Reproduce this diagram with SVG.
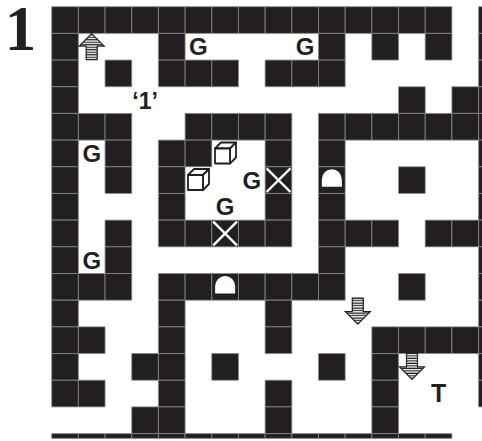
<svg xmlns="http://www.w3.org/2000/svg" width="482" height="441" viewBox="0 0 482 441">
  <style>
    .wall { fill: #231f20; stroke: #8a8a8a; stroke-width: 0.8; vector-effect: non-scaling-stroke; }
    .lbl { font-family: "Liberation Sans", Arial, sans-serif; font-weight: bold; fill: #231f20; text-anchor: middle; }
    .num { font-family: "Liberation Serif", "Times New Roman", serif; font-weight: bold; fill: #231f20; text-anchor: middle; }
    .cross { stroke: #fff; stroke-width: 2.4; }
    .door { fill: #fff; }
    .crate { fill: #fff; stroke: #231f20; stroke-width: 1.8; stroke-linejoin: round; }
    .arrow { fill: url(#hatch); stroke: #231f20; stroke-width: 1.2; stroke-linejoin: miter; }
  </style>
  <defs>
    <pattern id="hatch" width="4" height="2.5" patternUnits="userSpaceOnUse">
      <rect width="4" height="2.5" fill="#fff"/>
      <rect width="4" height="1.2" fill="#231f20"/>
    </pattern>
    <g id="crate">
      <path class="crate" d="M0,6 L6,0 L21,0 L15,6 Z"/>
      <path class="crate" d="M15,6 L21,0 L21,15 L15,21 Z"/>
      <rect class="crate" x="0" y="6" width="15" height="15"/>
    </g>
    <path id="arrowUp" class="arrow" d="M0,-13 L12.5,-0.5 L5.5,-0.5 L5.5,13 L-5.5,13 L-5.5,-0.5 L-12.5,-0.5 Z"/>
  </defs>

  <rect width="482" height="441" fill="#fff"/>

  <!-- level number -->
  <text class="num" x="20.5" y="50" font-size="63">1</text>

  <!-- maze walls, one unit per cell -->
  <g id="walls" transform="translate(51.7 6.7) scale(26.68)">
    <!-- row 0 -->
    <rect class="wall" x="0" y="0" width="1" height="1"/><rect class="wall" x="1" y="0" width="1" height="1"/>
    <rect class="wall" x="2" y="0" width="1" height="1"/><rect class="wall" x="3" y="0" width="1" height="1"/>
    <rect class="wall" x="4" y="0" width="1" height="1"/><rect class="wall" x="5" y="0" width="1" height="1"/>
    <rect class="wall" x="6" y="0" width="1" height="1"/><rect class="wall" x="7" y="0" width="1" height="1"/>
    <rect class="wall" x="8" y="0" width="1" height="1"/><rect class="wall" x="9" y="0" width="1" height="1"/>
    <rect class="wall" x="10" y="0" width="1" height="1"/><rect class="wall" x="11" y="0" width="1" height="1"/>
    <rect class="wall" x="12" y="0" width="1" height="1"/><rect class="wall" x="13" y="0" width="1" height="1"/>
    <rect class="wall" x="14" y="0" width="1" height="1"/>
    <!-- row 1 -->
    <rect class="wall" x="0" y="1" width="1" height="1"/><rect class="wall" x="4" y="1" width="1" height="1"/>
    <rect class="wall" x="10" y="1" width="1" height="1"/><rect class="wall" x="12" y="1" width="1" height="1"/>
    <rect class="wall" x="14" y="1" width="1" height="1"/>
    <!-- row 2 -->
    <rect class="wall" x="0" y="2" width="1" height="1"/><rect class="wall" x="2" y="2" width="1" height="1"/>
    <rect class="wall" x="4" y="2" width="1" height="1"/><rect class="wall" x="5" y="2" width="1" height="1"/>
    <rect class="wall" x="6" y="2" width="1" height="1"/><rect class="wall" x="8" y="2" width="1" height="1"/>
    <rect class="wall" x="9" y="2" width="1" height="1"/><rect class="wall" x="10" y="2" width="1" height="1"/>
    <!-- row 3 -->
    <rect class="wall" x="0" y="3" width="1" height="1"/><rect class="wall" x="13" y="3" width="1" height="1"/>
    <rect class="wall" x="15" y="3" width="1" height="1"/>
    <!-- row 4 -->
    <rect class="wall" x="0" y="4" width="1" height="1"/><rect class="wall" x="1" y="4" width="1" height="1"/>
    <rect class="wall" x="2" y="4" width="1" height="1"/><rect class="wall" x="5" y="4" width="1" height="1"/>
    <rect class="wall" x="6" y="4" width="1" height="1"/><rect class="wall" x="7" y="4" width="1" height="1"/>
    <rect class="wall" x="8" y="4" width="1" height="1"/><rect class="wall" x="10" y="4" width="1" height="1"/>
    <rect class="wall" x="11" y="4" width="1" height="1"/><rect class="wall" x="12" y="4" width="1" height="1"/>
    <rect class="wall" x="13" y="4" width="1" height="1"/><rect class="wall" x="14" y="4" width="1" height="1"/>
    <rect class="wall" x="15" y="4" width="1" height="1"/>
    <!-- row 5 -->
    <rect class="wall" x="0" y="5" width="1" height="1"/><rect class="wall" x="2" y="5" width="1" height="1"/>
    <rect class="wall" x="4" y="5" width="1" height="1"/><rect class="wall" x="5" y="5" width="1" height="1"/>
    <rect class="wall" x="8" y="5" width="1" height="1"/><rect class="wall" x="10" y="5" width="1" height="1"/>
    <!-- row 6 -->
    <rect class="wall" x="0" y="6" width="1" height="1"/><rect class="wall" x="2" y="6" width="1" height="1"/>
    <rect class="wall" x="4" y="6" width="1" height="1"/><rect class="wall" x="8" y="6" width="1" height="1"/>
    <rect class="wall" x="10" y="6" width="1" height="1"/><rect class="wall" x="13" y="6" width="1" height="1"/>
    <!-- row 7 -->
    <rect class="wall" x="0" y="7" width="1" height="1"/><rect class="wall" x="4" y="7" width="1" height="1"/>
    <rect class="wall" x="8" y="7" width="1" height="1"/><rect class="wall" x="10" y="7" width="1" height="1"/>
    <!-- row 8 -->
    <rect class="wall" x="0" y="8" width="1" height="1"/><rect class="wall" x="2" y="8" width="1" height="1"/>
    <rect class="wall" x="4" y="8" width="1" height="1"/><rect class="wall" x="5" y="8" width="1" height="1"/>
    <rect class="wall" x="6" y="8" width="1" height="1"/><rect class="wall" x="7" y="8" width="1" height="1"/>
    <rect class="wall" x="8" y="8" width="1" height="1"/><rect class="wall" x="10" y="8" width="1" height="1"/>
    <rect class="wall" x="11" y="8" width="1" height="1"/><rect class="wall" x="12" y="8" width="1" height="1"/>
    <rect class="wall" x="14" y="8" width="1" height="1"/><rect class="wall" x="15" y="8" width="1" height="1"/>
    <!-- row 9 -->
    <rect class="wall" x="0" y="9" width="1" height="1"/><rect class="wall" x="2" y="9" width="1" height="1"/>
    <rect class="wall" x="10" y="9" width="1" height="1"/>
    <!-- row 10 -->
    <rect class="wall" x="0" y="10" width="1" height="1"/><rect class="wall" x="1" y="10" width="1" height="1"/>
    <rect class="wall" x="2" y="10" width="1" height="1"/><rect class="wall" x="4" y="10" width="1" height="1"/>
    <rect class="wall" x="5" y="10" width="1" height="1"/><rect class="wall" x="6" y="10" width="1" height="1"/>
    <rect class="wall" x="7" y="10" width="1" height="1"/><rect class="wall" x="8" y="10" width="1" height="1"/>
    <rect class="wall" x="9" y="10" width="1" height="1"/><rect class="wall" x="10" y="10" width="1" height="1"/>
    <rect class="wall" x="13" y="10" width="1" height="1"/>
    <!-- row 11 -->
    <rect class="wall" x="0" y="11" width="1" height="1"/><rect class="wall" x="4" y="11" width="1" height="1"/>
    <rect class="wall" x="8" y="11" width="1" height="1"/>
    <!-- row 12 -->
    <rect class="wall" x="0" y="12" width="1" height="1"/><rect class="wall" x="1" y="12" width="1" height="1"/>
    <rect class="wall" x="4" y="12" width="1" height="1"/><rect class="wall" x="8" y="12" width="1" height="1"/>
    <rect class="wall" x="12" y="12" width="1" height="1"/><rect class="wall" x="13" y="12" width="1" height="1"/>
    <rect class="wall" x="14" y="12" width="1" height="1"/><rect class="wall" x="15" y="12" width="1" height="1"/>
    <!-- row 13 -->
    <rect class="wall" x="0" y="13" width="1" height="1"/><rect class="wall" x="3" y="13" width="1" height="1"/>
    <rect class="wall" x="4" y="13" width="1" height="1"/><rect class="wall" x="6" y="13" width="1" height="1"/>
    <rect class="wall" x="10" y="13" width="1" height="1"/><rect class="wall" x="12" y="13" width="1" height="1"/>
    <!-- row 14 -->
    <rect class="wall" x="0" y="14" width="1" height="1"/><rect class="wall" x="1" y="14" width="1" height="1"/>
    <rect class="wall" x="4" y="14" width="1" height="1"/><rect class="wall" x="8" y="14" width="1" height="1"/>
    <rect class="wall" x="12" y="14" width="1" height="1"/>
    <!-- row 15 -->
    <rect class="wall" x="3" y="15" width="1" height="1"/><rect class="wall" x="4" y="15" width="1" height="1"/>
    <rect class="wall" x="8" y="15" width="1" height="1"/><rect class="wall" x="12" y="15" width="1" height="1"/>
    <!-- cut-off column on the right edge -->
    <rect class="wall" x="16" y="0" width="0.3" height="1"/><rect class="wall" x="16" y="1" width="0.3" height="1"/>
    <rect class="wall" x="16" y="2" width="0.3" height="1"/><rect class="wall" x="16" y="3" width="0.3" height="1"/>
    <rect class="wall" x="16" y="4" width="0.3" height="1"/><rect class="wall" x="16" y="5" width="0.3" height="1"/>
    <rect class="wall" x="16" y="6" width="0.3" height="1"/><rect class="wall" x="16" y="7" width="0.3" height="1"/>
    <rect class="wall" x="16" y="8" width="0.3" height="1"/><rect class="wall" x="16" y="9" width="0.3" height="1"/>
    <rect class="wall" x="16" y="10" width="0.3" height="1"/><rect class="wall" x="16" y="11" width="0.3" height="1"/>
    <rect class="wall" x="16" y="12" width="0.3" height="1"/><rect class="wall" x="16" y="13" width="0.3" height="1"/>
    <rect class="wall" x="16" y="14" width="0.3" height="1"/>
    <!-- cut-off row along the bottom edge -->
    <rect class="wall" x="0" y="16" width="1" height="0.18"/><rect class="wall" x="1" y="16" width="1" height="0.18"/>
    <rect class="wall" x="2" y="16" width="1" height="0.18"/><rect class="wall" x="3" y="16" width="1" height="0.18"/>
    <rect class="wall" x="4" y="16" width="1" height="0.18"/><rect class="wall" x="5" y="16" width="1" height="0.18"/>
    <rect class="wall" x="6" y="16" width="1" height="0.18"/><rect class="wall" x="7" y="16" width="1" height="0.18"/>
    <rect class="wall" x="8" y="16" width="1" height="0.18"/><rect class="wall" x="9" y="16" width="1" height="0.18"/>
    <rect class="wall" x="10" y="16" width="1" height="0.18"/><rect class="wall" x="11" y="16" width="1" height="0.18"/>
    <rect class="wall" x="12" y="16" width="1" height="0.18"/><rect class="wall" x="13" y="16" width="1" height="0.18"/>
    <rect class="wall" x="14" y="16" width="1" height="0.18"/>
  </g>

  <!-- breakable walls (white crosses) -->
  <g id="crosses">
    <line class="cross" x1="266.6" y1="168.3" x2="290.4" y2="192"/>
    <line class="cross" x1="290.4" y1="168.3" x2="266.6" y2="192"/>
    <line class="cross" x1="213.2" y1="221.6" x2="237" y2="245.3"/>
    <line class="cross" x1="237" y1="221.6" x2="213.2" y2="245.3"/>
  </g>

  <!-- doorways -->
  <g id="doors">
    <path class="door" d="M321.84,186.8 V179.3 A10,10 0 0 1 341.84,179.3 V186.8 Z"/>
    <path class="door" d="M215.12,293.5 V286 A10,10 0 0 1 235.12,286 V293.5 Z"/>
  </g>

  <!-- crates -->
  <g id="crates">
    <use href="#crate" x="215" y="142.5"/>
    <use href="#crate" x="188" y="169"/>
  </g>

  <!-- entry and exit arrows -->
  <g id="arrows">
    <use href="#arrowUp" transform="translate(91.7 46.7)"/>
    <use href="#arrowUp" transform="translate(357.8 311.2) rotate(180)"/>
    <use href="#arrowUp" transform="translate(412 366.4) rotate(180)"/>
  </g>

  <!-- cell labels -->
  <g id="labels">
    <text class="lbl" x="198.44" y="55.3" font-size="24">G</text>
    <text class="lbl" x="305.16" y="55.3" font-size="24">G</text>
    <text class="lbl" x="91.72" y="162" font-size="24">G</text>
    <text class="lbl" x="251.8" y="188.7" font-size="24">G</text>
    <text class="lbl" x="225.12" y="215.4" font-size="24">G</text>
    <text class="lbl" x="91.72" y="268.7" font-size="24">G</text>
    <text class="lbl" x="145.08" y="108.6" font-size="23">‘1’</text>
    <text class="lbl" x="438.56" y="402.4" font-size="25">T</text>
  </g>
</svg>
